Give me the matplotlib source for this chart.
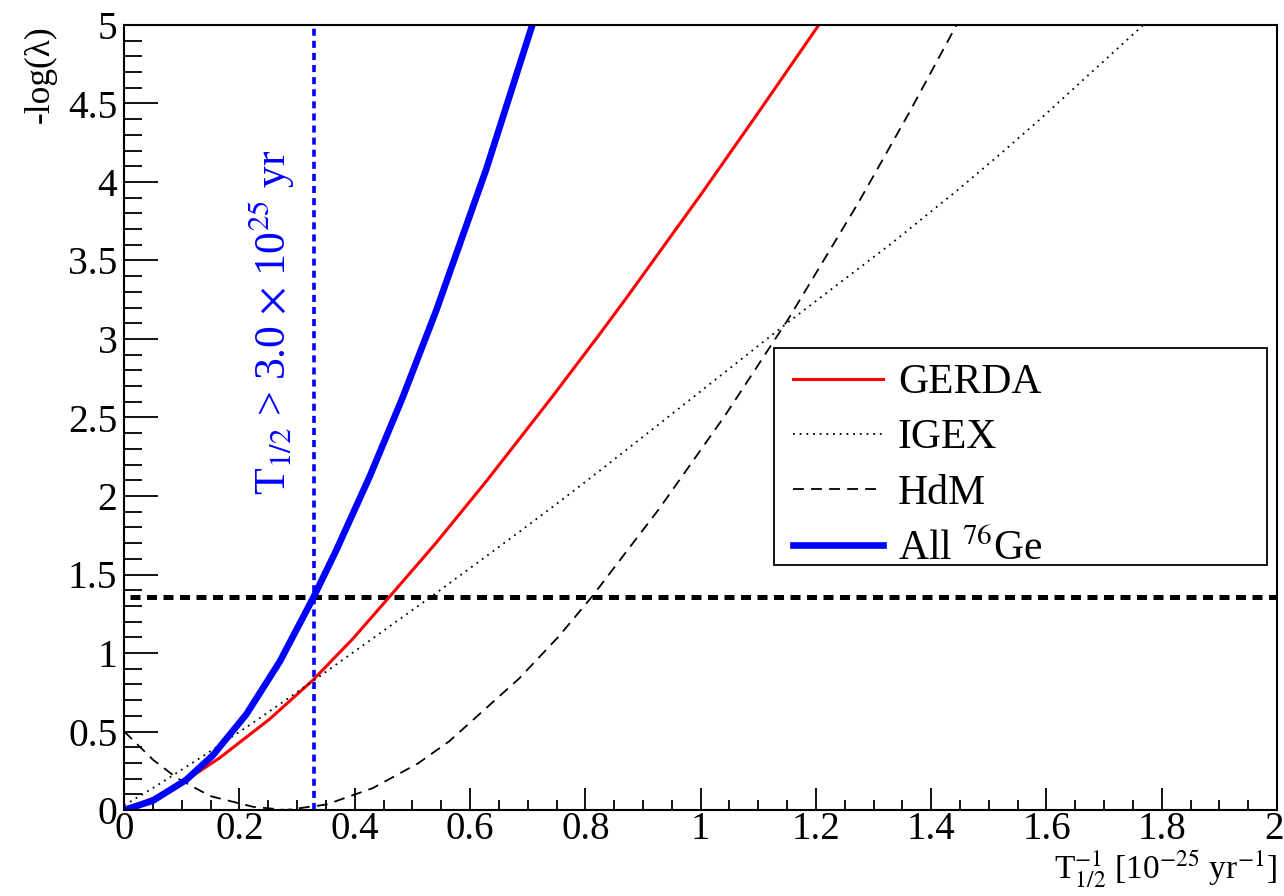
import matplotlib
matplotlib.use("Agg")
import matplotlib.pyplot as plt
from matplotlib.ticker import MultipleLocator
from matplotlib.patches import Rectangle
from matplotlib.transforms import ScaledTranslation

plt.rcParams['font.family'] = ['Liberation Serif', 'DejaVu Serif']
plt.rcParams['mathtext.fontset'] = 'stix'

# ---- data ----
gerda_x = [0.0, 0.05, 0.108, 0.166, 0.252, 0.327, 0.397, 0.460, 0.541, 0.628, 0.743, 0.824, 0.870, 1.003, 1.101, 1.205]
gerda_y = [0.0, 0.075, 0.191, 0.333, 0.578, 0.826, 1.092, 1.357, 1.701, 2.093, 2.634, 3.027, 3.255, 3.933, 4.447, 5.0]

igex_x = [0.0, 0.05, 0.137, 0.224, 0.327, 0.535, 0.685, 0.755, 0.824, 0.928, 1.124, 1.153, 1.332, 1.447, 1.517, 1.586, 1.768]
igex_y = [0.03, 0.14, 0.344, 0.557, 0.82, 1.365, 1.77, 1.963, 2.158, 2.458, 3.026, 3.11, 3.611, 3.952, 4.169, 4.39, 5.0]

hdm_x = [0.0, 0.05, 0.091, 0.149, 0.224, 0.281, 0.351, 0.431, 0.509, 0.564, 0.685, 0.754, 0.812, 0.928, 1.043, 1.153, 1.274, 1.361, 1.444]
hdm_y = [0.50, 0.32, 0.205, 0.089, 0.02, 0.0, 0.035, 0.139, 0.295, 0.438, 0.837, 1.106, 1.361, 1.918, 2.516, 3.132, 3.87, 4.436, 5.0]

all_x = [0.0, 0.05, 0.108, 0.154, 0.212, 0.270, 0.329, 0.368, 0.426, 0.483, 0.541, 0.628, 0.708]
all_y = [0.0, 0.06, 0.193, 0.349, 0.61, 0.946, 1.359, 1.655, 2.125, 2.627, 3.178, 4.08, 5.0]

cl_level = 1.355
t_limit = 0.329

fig = plt.figure(figsize=(12.84, 8.96), dpi=100)
ax = fig.add_axes([124.2 / 1284, 86 / 896, (1277 - 124.2) / 1284, 785 / 896])

ax.plot(gerda_x, gerda_y, color='#ff0000', lw=2.2, label='GERDA')
ax.plot(igex_x, igex_y, color='black', lw=1.3, linestyle=(0, (1, 2.7)), label='IGEX')
ax.plot(hdm_x, hdm_y, color='black', lw=1.3, linestyle=(0, (6, 4)), label='HdM')
ax.plot(all_x, all_y, color='#0000ff', lw=4.8, label=r'All $^{76}$Ge')

ax.axhline(cl_level, xmin=0.005, color='black', lw=3.6, linestyle=(0, (2, 1.3)), zorder=1)
ax.axvline(t_limit, color='#0000ff', lw=2.6, linestyle=(0, (1.95, 1.4)), zorder=1)

ax.text(0.256, 3.105, r'T$_{1/2}$ > 3.0 $\times$ 10$^{25}$ yr', color='#0000ff',
        rotation=90, ha='center', va='center', fontsize=31.5)

ax.set_xlim(0, 2)
ax.set_ylim(0, 5)
ax.xaxis.set_minor_locator(MultipleLocator(0.05))
ax.yaxis.set_minor_locator(MultipleLocator(0.1))
ax.set_xticks([0, 0.2, 0.4, 0.6, 0.8, 1.0, 1.2, 1.4, 1.6, 1.8, 2.0])
ax.set_xticklabels(['0', '0.2', '0.4', '0.6', '0.8', '1', '1.2', '1.4', '1.6', '1.8', '2'])
ax.set_yticks([0, 0.5, 1, 1.5, 2, 2.5, 3, 3.5, 4, 4.5, 5])
ax.set_yticklabels(['0', '0.5', '1', '1.5', '2', '2.5', '3', '3.5', '4', '4.5', '5'])

ax.tick_params(axis='x', which='major', direction='in', length=16, width=1.3, labelsize=28, pad=1)
ax.tick_params(axis='x', which='minor', direction='in', length=7.5, width=1.3)
ax.tick_params(axis='y', which='major', direction='in', length=24.5, width=1.3, labelsize=28.5, pad=5)
ax.tick_params(axis='y', which='minor', direction='in', length=13, width=1.3)
for s in ax.spines.values():
    s.set_linewidth(1.5)

# keep the last x tick label inside the canvas
last = ax.xaxis.get_major_ticks()[-1].label1
last.set_transform(last.get_transform() + ScaledTranslation(-0.035, 0, fig.dpi_scale_trans))

ax.set_xlabel(r'T$^{-1}_{1/2}$ [10$^{-25}$ yr$^{-1}$]', fontsize=24, loc='right', labelpad=0)
ax.set_ylabel('-log(λ)', fontsize=25.5, loc='top', labelpad=8)

# legend frame (drawn as its own box, legend entries placed inside)
box_x0, box_y0, box_w, box_h = 0.564, 0.312, 0.427, 0.2765
ax.add_patch(Rectangle((box_x0, box_y0), box_w, box_h, transform=ax.transAxes,
                       facecolor='white', edgecolor='black', lw=1.3, zorder=4.5))
leg = ax.legend(loc='upper left', bbox_to_anchor=(box_x0 + 0.0055, box_y0 + box_h - 0.004),
                fontsize=30, frameon=False,
                borderpad=0.3, handlelength=2.15, handletextpad=0.36, labelspacing=0.4,
                borderaxespad=0.0)
leg.set_zorder(5)

fig.savefig('out.png', dpi=100, facecolor='white')
